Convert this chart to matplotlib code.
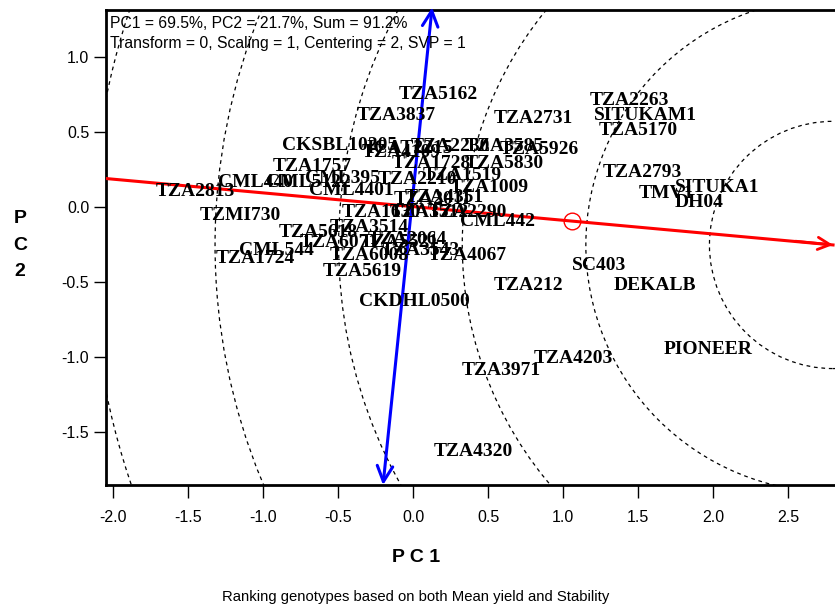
import numpy as np
import matplotlib
matplotlib.use("Agg")
from matplotlib import pyplot as plt
from matplotlib.patches import Circle

# genotype scores (PC1, PC2)
genotypes = [
    "TZA5162", "TZA3837", "TZA2731", "TZA2263", "SITUKAM1", "TZA5170",
    "CKSBL10205", "TZA1757", "CML440", "TZA2813", "TZMI730", "TZA5618",
    "CML544", "TZA1724", "TZA5619", "CKDHL0500", "TZA212", "SC403",
    "DEKALB", "PIONEER", "TZA4203", "TZA3971", "TZA4320", "CML442",
    "TZA2793", "TMV1", "SITUKA1", "DH04", "TZA4067",
    "TZA4109", "ICAT2215", "TZA2230", "TZA3585", "TZA5926", "TZA5830",
    "TZA1728", "CML395", "CML5122", "TZA2210", "TZA1519", "TZA1009",
    "CML4401", "TZA2011", "TZA4351", "TZA1630", "TZA3512", "TZA2290",
    "TZA3514", "TZA6071", "TZA2064", "TZA3543", "TZA6008", "TZA5521",
]
pc1 = [
    0.17, -0.11, 0.80, 1.44, 1.55, 1.50,
    -0.49, -0.67, -1.05, -1.45, -1.15, -0.63,
    -0.91, -1.05, -0.34, 0.01, 0.77, 1.24,
    1.61, 1.97, 1.07, 0.59, 0.40, 0.56,
    1.53, 1.69, 2.03, 1.91, 0.36,
    -0.08, -0.02, 0.25, 0.61, 0.84, 0.61,
    0.12, -0.47, -0.70, 0.03, 0.33, 0.51,
    -0.41, 0.13, 0.21, -0.21, 0.11, 0.36,
    -0.29, -0.49, -0.04, 0.05, -0.29, -0.09,
]
pc2 = [
    0.75, 0.61, 0.59, 0.71, 0.61, 0.51,
    0.41, 0.27, 0.16, 0.10, -0.06, -0.17,
    -0.29, -0.34, -0.43, -0.63, -0.52, -0.39,
    -0.52, -0.95, -1.01, -1.09, -1.63, -0.10,
    0.23, 0.09, 0.13, 0.03, -0.32,
    0.36, 0.39, 0.40, 0.40, 0.38, 0.29,
    0.29, 0.19, 0.16, 0.18, 0.21, 0.13,
    0.11, 0.05, 0.06, -0.04, -0.04, -0.04,
    -0.14, -0.24, -0.22, -0.29, -0.32, -0.24,
]

# average environment axis (red), its ordinate (blue), mean environment marker
aea_left = (-2.05, 0.19)
aea_right = (2.80, -0.253)
aec_top = (0.127, 1.33)
aec_bottom = (-0.20, -1.853)
mean_env = (1.06, -0.093)
ideal = (2.80, -0.253)
ring_radii = [0.824, 1.648, 2.472, 3.296, 4.12, 4.944, 5.768]

xticks = [-2.0, -1.5, -1.0, -0.5, 0.0, 0.5, 1.0, 1.5, 2.0, 2.5]
yticks = [-1.5, -1.0, -0.5, 0.0, 0.5, 1.0]

fig = plt.figure(figsize=(8.35, 6.1), dpi=100)
ax = fig.add_axes([106 / 835, 125 / 610, 732 / 835, 475 / 610])
ax.set_xlim(-2.047, -2.047 + 732 / 150)
ax.set_ylim(-1.853, 1.313)

for r in ring_radii:
    ax.add_patch(Circle(ideal, r, fill=False, ls=(0, (3, 3)), lw=0.9, color="black", zorder=1))

ax.plot([aea_left[0], aea_right[0]], [aea_left[1], aea_right[1]], color="red", lw=2.2, zorder=3)
ax.annotate("", xy=aea_right, xytext=(2.55, aea_right[1] + 0.025),
            arrowprops=dict(arrowstyle="->", color="red", lw=2, mutation_scale=22, shrinkA=0, shrinkB=0),
            zorder=3)
ax.plot(*mean_env, marker="o", ms=12, mfc="none", mec="red", mew=1, zorder=3)

ax.annotate("", xy=aec_top, xytext=aec_bottom, annotation_clip=False,
            arrowprops=dict(arrowstyle="<->", color="blue", lw=2.2, mutation_scale=28, shrinkA=0, shrinkB=0),
            zorder=4)

for name, x, y in zip(genotypes, pc1, pc2):
    ax.text(x, y, name, ha="center", va="center", fontsize=14, fontweight="bold",
            family="Liberation Serif", color="black", zorder=5, clip_on=True)

ax.set_xticks(xticks)
ax.set_yticks(yticks)
ax.set_xticklabels([f"{t:.1f}" for t in xticks], family="Liberation Sans", fontsize=11.5)
ax.set_yticklabels([f"{t:.1f}" for t in yticks], family="Liberation Sans", fontsize=11.5)
ax.tick_params(direction="out", length=9, width=1)
ax.tick_params(axis="x", pad=9)
ax.tick_params(axis="y", pad=3)
for s in ax.spines.values():
    s.set_linewidth(2)

ax.text(0.005, 0.988, "PC1 = 69.5%, PC2 = 21.7%, Sum = 91.2%\nTransform = 0, Scaling = 1, Centering = 2, SVP = 1",
        transform=ax.transAxes, ha="left", va="top", fontsize=11.3, family="Liberation Sans",
        linespacing=1.45, zorder=6)

fig.text(20 / 835, 1 - 245 / 610, "P\nC\n2", ha="center", va="center", fontsize=14,
         fontweight="bold", family="Liberation Sans", linespacing=1.7)
fig.text(416 / 835, 1 - 557 / 610, "P C 1", ha="center", va="center", fontsize=14,
         fontweight="bold", family="Liberation Sans")
fig.text(416 / 835, 1 - 597 / 610, "Ranking genotypes based on both Mean yield and Stability",
         ha="center", va="center", fontsize=10.7, family="Liberation Sans")

fig.savefig("out.png", dpi=100)
